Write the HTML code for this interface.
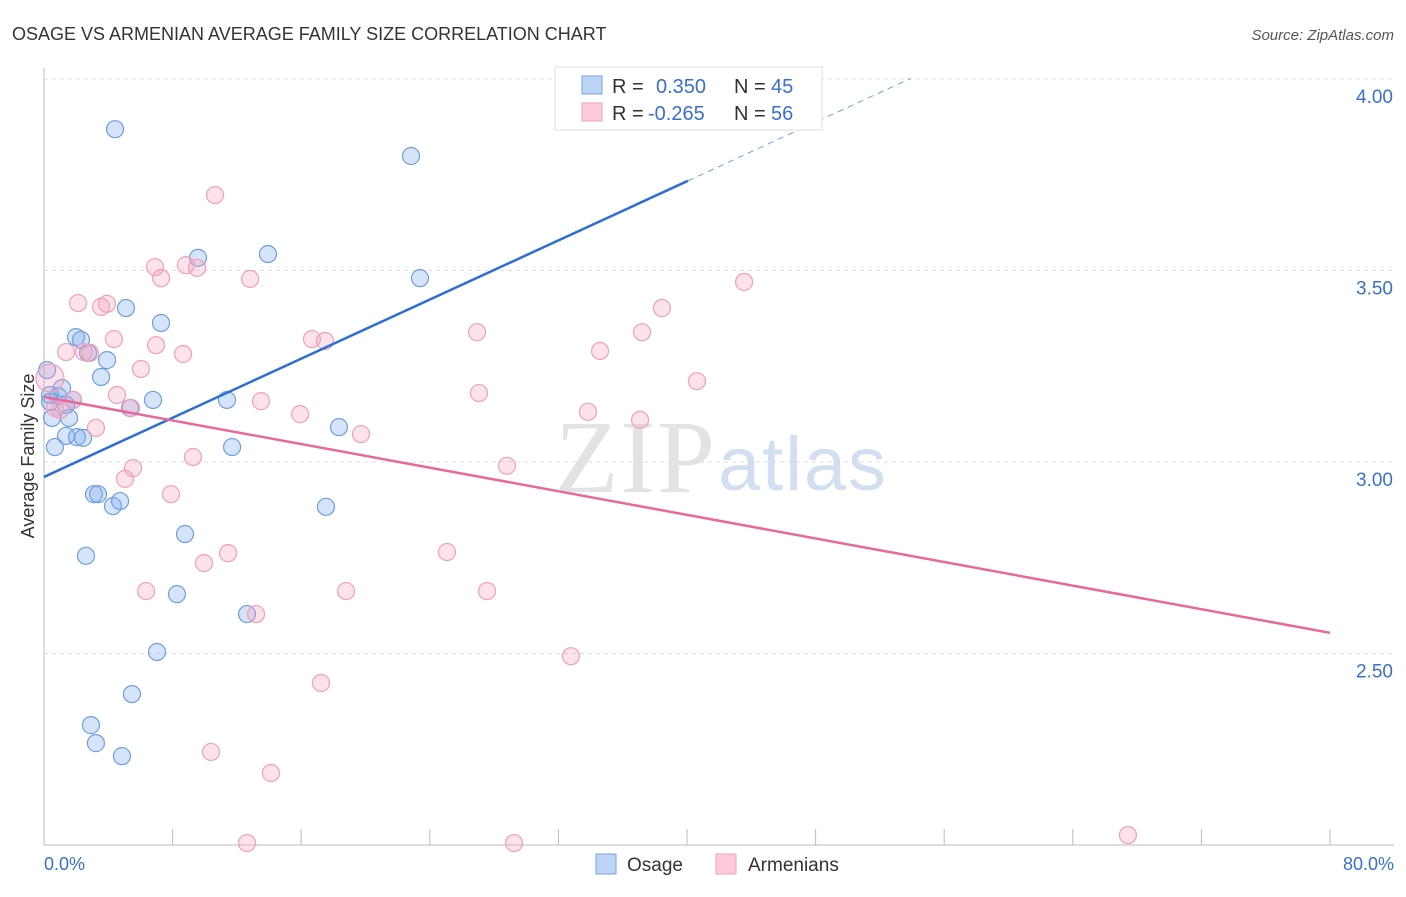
<!DOCTYPE html>
<html><head><meta charset="utf-8"><style>
body{margin:0;background:#fff;font-family:"Liberation Sans",sans-serif}
</style></head><body>
<svg width="1406" height="892" xmlns="http://www.w3.org/2000/svg" font-family="Liberation Sans, sans-serif">
<text x="12" y="40" font-size="18" fill="#333">OSAGE VS ARMENIAN AVERAGE FAMILY SIZE CORRELATION CHART</text>
<text x="1394" y="40" font-size="15" fill="#555" text-anchor="end" font-style="italic">Source: ZipAtlas.com</text>
<g id="grid"></g>
<text x="555" y="492" font-size="104" fill="#ddd" font-family="Liberation Serif, serif" opacity="0.8" textLength="160">ZIP</text>
<text x="718" y="490" font-size="76" fill="#c8d8ee" opacity="0.8" textLength="168">atlas</text>
<g id="pts"></g>
<g id="lines"></g>
<text transform="translate(34,456) rotate(-90)" font-size="18" fill="#333" text-anchor="middle">Average Family Size</text>
<text x="44" y="870" font-size="18" fill="#3a6fd0">0.0%</text>
<text x="1394" y="870" font-size="18" fill="#3a6fd0" text-anchor="end">80.0%</text>
<g>
<rect x="555" y="67" width="267" height="63" fill="#fff" stroke="#ddd"/>
<rect x="582" y="76" width="20" height="18" fill="#bcd4f5" stroke="#7aa5e0"/>
<rect x="582" y="103" width="20" height="18" fill="#fbcadb" stroke="#f0a0b8"/>
<text y="93" font-size="20" fill="#333"><tspan x="612">R =</tspan><tspan x="656" fill="#3a6fd0">0.350</tspan><tspan x="734">N =</tspan><tspan x="771" fill="#3a6fd0">45</tspan></text>
<text y="120" font-size="20" fill="#333"><tspan x="612">R =</tspan><tspan x="648" fill="#3a6fd0">-0.265</tspan><tspan x="734">N =</tspan><tspan x="771" fill="#3a6fd0">56</tspan></text>
</g>
<g>
<rect x="596" y="854" width="20" height="20" fill="#bcd4f5" stroke="#7aa5e0"/>
<text x="627" y="871" font-size="19" fill="#333">Osage</text>
<rect x="716" y="854" width="20" height="20" fill="#fbcadb" stroke="#f0a0b8"/>
<text x="748" y="871" font-size="19" fill="#333">Armenians</text>
</g>
</svg>
<script>
const yTicks=[2.5,3.0,3.5,4.0];
const yTickLabels=["2.50","3.00","3.50","4.00"];
const osageX=[4.42,22.83,13.93,9.58,23.39,5.10,7.28,1.99,2.30,3.92,3.55,0.19,1.12,0.87,1.80,0.37,1.37,6.78,11.38,5.35,0.50,1.56,1.37,2.05,2.43,0.68,11.70,18.35,3.11,3.36,4.29,4.73,17.54,8.77,2.61,8.27,12.63,7.03,5.47,2.92,3.23,4.85,32.35,0.37,2.74];
const osageY=[3.869,3.799,3.543,3.533,3.480,3.402,3.363,3.326,3.319,3.266,3.222,3.240,3.193,3.172,3.162,3.157,3.149,3.162,3.162,3.141,3.115,3.115,3.068,3.065,3.063,3.039,3.039,3.091,2.916,2.916,2.885,2.898,2.883,2.812,2.755,2.655,2.603,2.504,2.394,2.313,2.266,2.232,4.000,3.175,3.285];
const armX=[10.64,6.91,8.83,9.52,7.28,12.82,43.55,2.12,3.92,3.55,38.44,26.94,37.20,4.35,16.67,17.48,6.97,1.37,2.49,2.86,8.65,34.59,6.03,40.62,27.06,4.54,1.80,13.50,5.41,33.84,15.93,37.08,1.00,19.72,3.23,9.27,5.54,28.80,5.04,7.90,11.45,25.07,9.95,6.35,18.79,27.56,13.19,32.78,17.23,10.39,14.12,12.63,29.24,67.43,0.37,0.68];
const armY=[3.697,3.509,3.514,3.507,3.480,3.478,3.470,3.415,3.413,3.405,3.402,3.339,3.339,3.321,3.321,3.316,3.305,3.287,3.287,3.285,3.282,3.290,3.243,3.211,3.180,3.175,3.162,3.159,3.141,3.131,3.125,3.110,3.136,3.073,3.089,3.013,2.984,2.990,2.956,2.916,2.762,2.765,2.736,2.663,2.663,2.663,2.603,2.493,2.423,2.243,2.188,2.005,2.005,2.026,3.219,3.141];
const osageTrend=[2.961,0.0193];
const armTrend=[3.170,-0.0077];
const NS="http://www.w3.org/2000/svg";
const X=v=>44+v*(1330-44)/80, Y=v=>462-(v-3)*383;
function mk(t,a,p){const e=document.createElementNS(NS,t);for(const k in a)e.setAttribute(k,a[k]);p.appendChild(e);return e;}
const g=document.getElementById('grid');
yTicks.forEach((t,i)=>{const l=mk('line',{x1:44,x2:1394,y1:Y(t),y2:Y(t),stroke:'#ddd','stroke-dasharray':'4,4'},g);


const tx=mk('text',{x:1393,y:Y(t)+24,'font-size':19,fill:'#3a6fd0','text-anchor':'end'},g);tx.textContent=yTickLabels[i];

});
mk('line',{x1:44,x2:44,y1:68,y2:845,stroke:'#bbb'},g);
mk('line',{x1:44,x2:1394,y1:845,y2:845,stroke:'#bbb'},g);
for(let i=0;i<=10;i++){const tk=mk('line',{x1:X(i*8),x2:X(i*8),y1:829,y2:845,stroke:'#bbb'},g);

}
const p=document.getElementById('pts');
osageX.forEach((x,i)=>{const c=mk('circle',{cx:X(x),cy:Y(osageY[i]),r:8.5,fill:'rgba(120,165,235,0.3)',stroke:'#6f9fe0','stroke-width':1.2},p);

});
armX.forEach((x,i)=>{const c=mk('circle',{cx:X(x),cy:Y(armY[i]),r:i==54?14:8.5,fill:'rgba(245,160,190,0.3)',stroke:'#f0a0b8','stroke-width':1.2},p);

});
const L=document.getElementById('lines');
const ot=v=>osageTrend[0]+osageTrend[1]*v;
let l1=mk('line',{x1:X(0),y1:Y(ot(0)),x2:X(40.06),y2:Y(ot(40.06)),stroke:'#2a6fd6','stroke-width':2.5},L);


let l2=mk('line',{x1:X(40.06),y1:Y(ot(40.06)),x2:X(53.9),y2:Y(ot(53.9)),stroke:'#6f9fe0','stroke-width':1,'stroke-dasharray':'6,5'},L);


const at=v=>armTrend[0]+armTrend[1]*v;
let l3=mk('line',{x1:X(0),y1:Y(at(0)),x2:X(80),y2:Y(at(80)),stroke:'#e8689a','stroke-width':2.5},L);


</script>
</body></html>
